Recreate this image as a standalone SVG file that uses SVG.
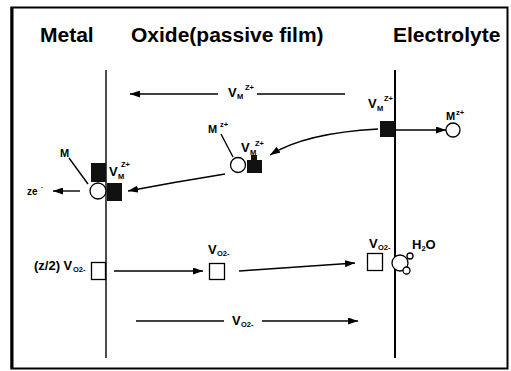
<svg xmlns="http://www.w3.org/2000/svg" width="511" height="371" viewBox="0 0 511 371">
<defs>
<marker id="ah" markerUnits="userSpaceOnUse" markerWidth="11" markerHeight="7" refX="10" refY="3.5" orient="auto">
<path d="M0,0 L10,3.5 L0,7 Z" fill="#000"/>
</marker>
</defs>
<style>
.t{font-family:"Liberation Sans",Arial,sans-serif;font-weight:bold;fill:#000}
.h{font-size:21px}
.l{font-size:13px}
.m{font-size:11px}
.s{font-size:7.5px}
.ln{stroke:#000;stroke-width:1.4;fill:none}
.ar{marker-end:url(#ah)}
.open{fill:#fff;stroke:#000;stroke-width:1.3}
.solid{fill:#111;stroke:none}
</style>
<rect width="511" height="371" fill="#fff"/>
<g id="frame">
<rect x="11.5" y="7.5" width="496" height="361" fill="none" stroke="#000" stroke-width="2"/>
<line x1="12" y1="7" x2="12" y2="369" stroke="#000" stroke-width="3"/>
</g>
<g id="headers">
<text class="t h" x="40" y="42">Metal</text>
<text class="t h" x="131" y="42">Oxide(passive film)</text>
<text class="t h" x="393" y="42">Electrolyte</text>
</g>
<g id="boundaries">
<line x1="106" y1="70" x2="106" y2="358" stroke="#000" stroke-width="1.4"/>
<line x1="395" y1="70" x2="395" y2="358" stroke="#000" stroke-width="2"/>
</g>
<g id="connectors">
<line class="ln ar" x1="218" y1="94" x2="130" y2="94"/>
<line class="ln" x1="257" y1="94" x2="345" y2="94"/>
<line class="ln ar" x1="395" y1="130" x2="446" y2="130"/>
<path class="ln ar" d="M378,129 Q305,133 270,155"/>
<path class="ln ar" d="M225,174 Q175,182 128,191"/>
<line class="ln ar" x1="80" y1="191" x2="53" y2="191"/>
<line class="ln" x1="221" y1="134" x2="233" y2="157"/>
<line class="ln" x1="69" y1="158" x2="88" y2="184"/>
<line class="ln ar" x1="114" y1="271" x2="203" y2="271"/>
<line class="ln ar" x1="239" y1="271" x2="355" y2="263"/>
<line class="ln" x1="136" y1="321" x2="224" y2="321"/>
<line class="ln ar" x1="262" y1="321" x2="358" y2="321"/>
</g>
<g id="label-top-arrow">
<text class="t l" x="228" y="97">V<tspan class="s" x="237" y="99">M</tspan><tspan class="s" x="245" y="90">Z+</tspan></text>
</g>
<g id="node-surface-vacancy">
<rect class="solid" x="380" y="121" width="15" height="16"/>
<text class="t l" x="368" y="108">V<tspan class="s" x="377" y="111">M</tspan><tspan class="s" x="384" y="101">Z+</tspan></text>
</g>
<g id="node-dissolved-ion">
<circle class="open" cx="453" cy="130" r="7"/>
<text class="t m" x="446" y="120">M<tspan class="s" x="456" y="115">z+</tspan></text>
</g>
<g id="node-oxide-ion">
<circle class="open" cx="238" cy="165" r="7.5"/>
<path class="solid" d="M247,173 V160 H251 V155 H257 V160 H262 V173 Z"/>
<text class="t m" x="208" y="133">M<tspan class="s" x="220" y="127">z+</tspan></text>
<text class="t l" x="241" y="152">V<tspan class="s" x="250" y="155">M</tspan><tspan class="s" x="255" y="146">Z+</tspan></text>
</g>
<g id="node-metal-interface">
<rect class="solid" x="91" y="163" width="15" height="19"/>
<rect class="solid" x="107" y="183" width="15" height="18"/>
<circle class="open" cx="98" cy="191" r="8"/>
<text class="t m" x="60" y="157">M</text>
<text class="t l" x="109" y="176">V<tspan class="s" x="118" y="179">M</tspan><tspan class="s" x="121" y="167">Z+</tspan></text>
<text class="t" style="font-size:10px" x="27" y="195">ze<tspan style="font-size:6px" x="41" y="189">-</tspan></text>
</g>
<g id="node-oxygen-vacancy-metal">
<rect class="open" x="91.5" y="262.5" width="14" height="17"/>
<text class="t l" x="34" y="270">(z/2) V<tspan class="s" x="73" y="272">O2-</tspan></text>
</g>
<g id="node-oxygen-vacancy-oxide">
<rect class="open" x="209.5" y="263.5" width="15" height="16"/>
<text class="t l" x="208" y="254">V<tspan class="s" x="217" y="256">O2-</tspan></text>
</g>
<g id="node-oxygen-vacancy-surface">
<rect class="open" x="367.5" y="253.5" width="15" height="17"/>
<text class="t l" x="369" y="248">V<tspan class="s" x="378" y="250">O2-</tspan></text>
</g>
<g id="node-water">
<circle class="open" cx="400" cy="263" r="8"/>
<circle class="open" cx="410" cy="256" r="3"/>
<circle class="open" cx="406.5" cy="270.5" r="3.5"/>
<text class="t l" x="412" y="249">H<tspan class="s" dy="2">2</tspan><tspan dy="-2">O</tspan></text>
</g>
<g id="label-bottom-arrow">
<text class="t l" x="232" y="325">V<tspan class="s" x="241" y="327">O2-</tspan></text>
</g>
</svg>
